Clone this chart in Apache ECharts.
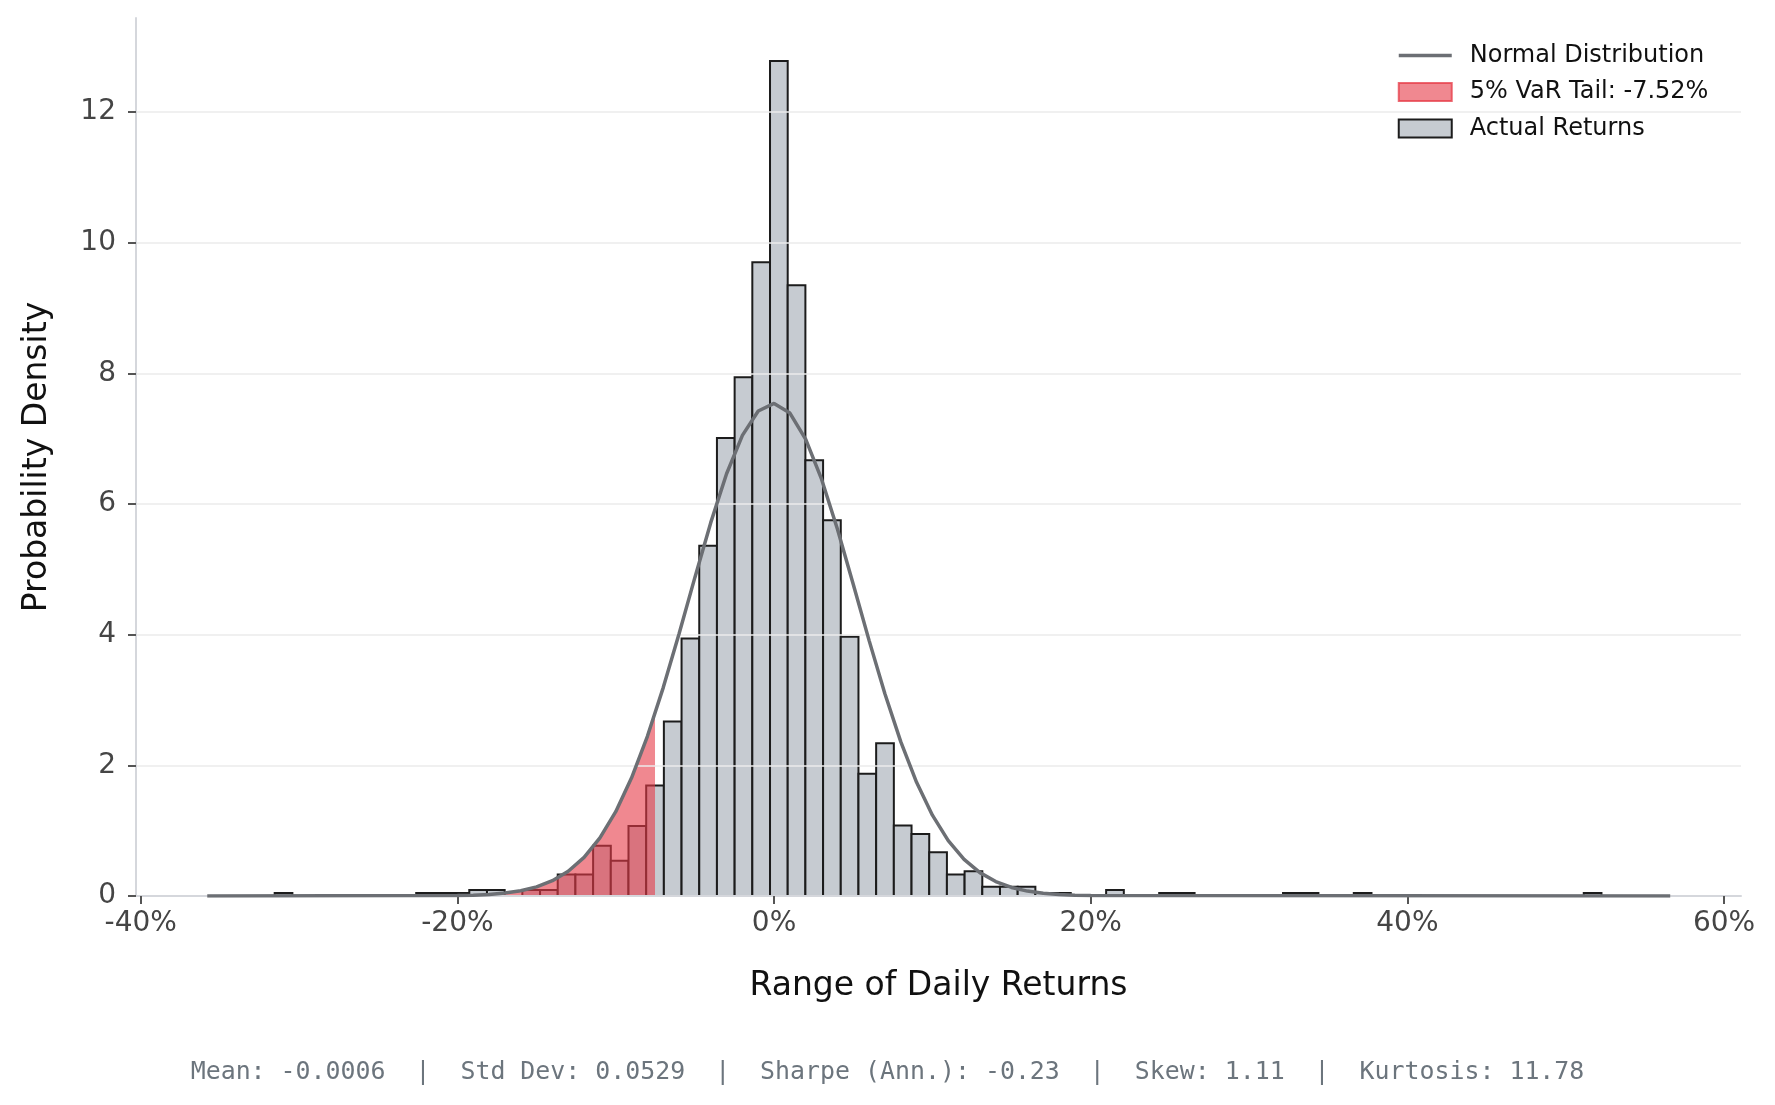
<!DOCTYPE html>
<html>
<head>
<meta charset="utf-8">
<script src="https://cdn.jsdelivr.net/npm/echarts@6/dist/echarts.min.js"></script>
<style>
  html, body { margin: 0; padding: 0; background: #fff; }
  #histogram { width: 1775px; height: 1105px; }
</style>
</head>
<body>
<div id="histogram"></div>
<script>
// histogram bins (returns in %), density
var binLo = -36.01
var binWidth = 1.1173
var density = [
  0, 0, 0, 0, 0.045, 0, 0, 0, 0, 0,
  0, 0, 0.045, 0.045, 0.045, 0.09, 0.09, 0, 0.09, 0.09,
  0.33, 0.33, 0.77, 0.54, 1.07, 1.69, 2.67, 3.94, 5.36, 7.01,
  7.94, 9.70, 12.78, 9.35, 6.67, 5.75, 3.97, 1.87, 2.34, 1.08,
  0.95, 0.67, 0.33, 0.38, 0.14, 0.14, 0.14, 0.045, 0.045, 0,
  0, 0.09, 0, 0, 0.045, 0.045, 0, 0, 0, 0,
  0, 0.045, 0.045, 0, 0, 0.045, 0, 0, 0, 0,
  0, 0, 0, 0, 0, 0, 0, 0, 0.045, 0,
  0, 0, 0
]

// fitted normal curve [return %, density]
var normalCurve = [
  [-35.8, 0], [-20, 0.006], [-19, 0.012], [-18, 0.024], [-17, 0.045], [-16, 0.081],
  [-15, 0.140], [-14, 0.234], [-13, 0.379], [-12, 0.591], [-11, 0.889],
  [-10, 1.291], [-9, 1.809], [-8, 2.445], [-7, 3.190], [-6, 4.015],
  [-5, 4.877], [-4, 5.715], [-3, 6.463], [-2, 7.051], [-1, 7.424],
  [0, 7.54], [1, 7.392], [2, 6.991], [3, 6.380], [4, 5.618],
  [5, 4.773], [6, 3.913], [7, 3.095], [8, 2.363], [9, 1.740],
  [10, 1.237], [11, 0.848], [12, 0.561], [13, 0.358], [14, 0.221],
  [15, 0.131], [16, 0.075], [17, 0.042], [18, 0.022], [19, 0.011],
  [20, 0.006], [56.6, 0]
]

var varCutoff = -7.52
var varEdgeDensity = 2.79

var xTicks = [-40, -20, 0, 20, 40, 60]
var yTicks = [0, 2, 4, 6, 8, 10, 12]

var footer = 'Mean: -0.0006  |  Std Dev: 0.0529  |  Sharpe (Ann.): -0.23  |  Skew: 1.11  |  Kurtosis: 11.78'

var barData = density.map(function (d, i) {
  return [binLo + i * binWidth, binLo + (i + 1) * binWidth, d]
})
var tailData = normalCurve.filter(function (p) { return p[0] < varCutoff })
  .concat([[varCutoff, varEdgeDensity]])

var myChart = echarts.init(document.getElementById('histogram'))

var font = 'DejaVu Sans'
var curveColor = '#6c6f74'
var option = {
  animation: false,
  title: {
    text: footer,
    left: 'center',
    top: 1060,
    padding: 0,
    textStyle: { fontFamily: 'DejaVu Sans Mono', fontSize: 24.9, fontWeight: 'normal', color: '#6c757d' },
  },
  legend: {
    orient: 'vertical',
    left: 1397,
    top: 42.5,
    padding: 0,
    itemWidth: 53,
    itemHeight: 18,
    itemGap: 10.5,
    textStyle: { fontFamily: font, fontSize: 24, lineHeight: 26, color: '#111', padding: [0, 0, 0, 13] },
    data: [
      // line icon only, hide the marker dot
      { name: 'Normal Distribution',
        lineStyle: { color: curveColor, width: 3.5 },
        itemStyle: { color: 'rgba(0,0,0,0)', borderColor: 'rgba(0,0,0,0)', borderWidth: 0 } },
      { name: '5% VaR Tail: -7.52%', icon: 'rect',
        itemStyle: { color: 'rgba(230,57,70,0.6)', borderColor: 'rgba(230,57,70,0.75)', borderWidth: 2 } },
      { name: 'Actual Returns', icon: 'rect',
        itemStyle: { color: '#c6cbd1', borderColor: '#1c1c1c', borderWidth: 2 } },
    ],
  },
  grid: { left: 136, right: 34, top: 18, bottom: 209 },
  xAxis: {
    type: 'value',
    min: -40.3,
    max: 61.07,
    z: 3,
    name: 'Range of Daily Returns',
    nameLocation: 'middle',
    nameGap: 74,
    nameTextStyle: { fontFamily: font, fontSize: 33, color: '#111' },
    axisLine: { onZero: false, lineStyle: { color: '#d5d7dc', width: 2 } },
    axisTick: { customValues: xTicks, length: 8, lineStyle: { color: '#555', width: 2 } },
    axisLabel: {
      customValues: xTicks,
      margin: 14,
      fontFamily: font,
      fontSize: 28,
      color: '#454545',
      formatter: function (v) { return v + '%' },
    },
    splitLine: { show: false },
  },
  yAxis: {
    type: 'value',
    min: 0,
    max: 13.44,
    interval: 2,
    z: 3,
    name: 'Probability Density',
    nameLocation: 'middle',
    nameGap: 82,
    nameTextStyle: { fontFamily: font, fontSize: 33, color: '#111' },
    axisLine: { show: true, onZero: false, lineStyle: { color: '#d5d7dc', width: 2 } },
    axisTick: { show: true, customValues: yTicks, length: 8, lineStyle: { color: '#555', width: 2 } },
    axisLabel: { customValues: yTicks, margin: 20, fontFamily: font, fontSize: 28, color: '#454545' },
    splitLine: { show: true, showMinLine: false, lineStyle: { color: '#ebebeb', width: 1.5 } },
  },
  series: [
    {
      name: 'Actual Returns',
      type: 'custom',
      z: 2,
      data: barData,
      encode: { x: [0, 1], y: 2 },
      renderItem: function (params, api) {
        var h = api.value(2)
        if (!h) return
        var p0 = api.coord([api.value(0), h])
        var p1 = api.coord([api.value(1), 0])
        return {
          type: 'rect',
          shape: { x: p0[0], y: p0[1], width: p1[0] - p0[0], height: p1[1] - p0[1] },
          style: { fill: '#c6cbd1', stroke: '#1c1c1c', lineWidth: 2 },
        }
      },
    },
    {
      name: '5% VaR Tail: -7.52%',
      type: 'line',
      z: 2,
      data: tailData,
      symbol: 'none',
      lineStyle: { width: 0 },
      itemStyle: { color: 'rgba(230,57,70,0.6)' },
      areaStyle: { color: 'rgba(230,57,70,0.6)', opacity: 1 },
    },
    {
      name: 'Normal Distribution',
      type: 'line',
      z: 4,
      data: normalCurve,
      symbol: 'none',
      lineStyle: { color: curveColor, width: 3.5 },
      itemStyle: { color: curveColor },
    },
  ],
}

myChart.setOption(option)
</script>
</body>
</html>
